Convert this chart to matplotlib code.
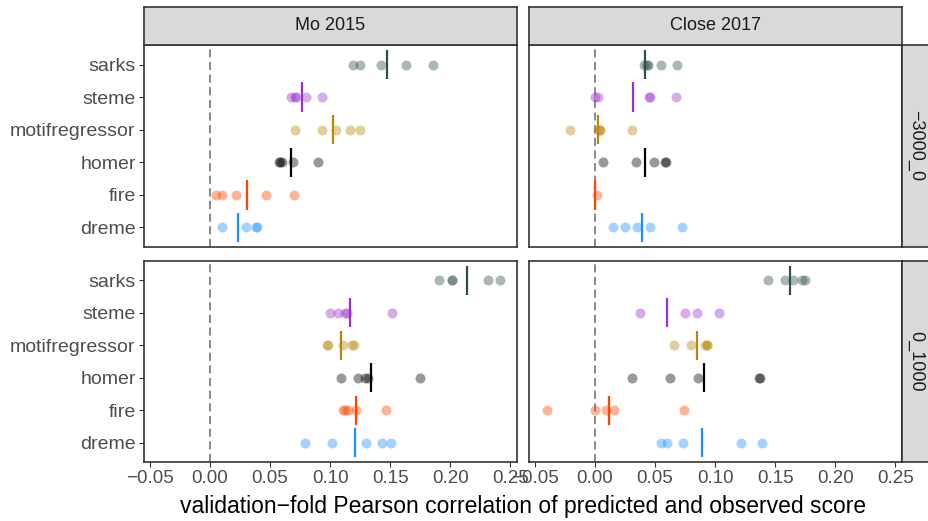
import numpy as np
import matplotlib
matplotlib.use('Agg')
import matplotlib.pyplot as plt

plt.rcParams['font.family'] = ['Liberation Sans', 'DejaVu Sans']

METHODS = ['dreme', 'fire', 'homer', 'motifregressor', 'steme', 'sarks']
COLORS = ['#1E90FF', '#FF4500', '#000000', '#B8860B', '#9932CC', '#2F4F4F']
STUDIES = ['Mo 2015', 'Close 2017']
WINDOWS = ['\u22123000_0', '0_1000']
XTICKS = [-0.05, 0.0, 0.05, 0.10, 0.15, 0.20, 0.25]
XLABEL = 'validation\u2212fold Pearson correlation of predicted and observed score'

# fold values per method (order of METHODS)
mo_up_dots = [
    [0.0102, 0.0302, 0.0385, 0.0390],
    [0.0055, 0.0105, 0.0219, 0.0468, 0.0703],
    [0.0576, 0.0586, 0.0604, 0.0695, 0.0903],
    [0.0706, 0.0936, 0.1052, 0.1163, 0.1251],
    [0.0673, 0.0706, 0.0717, 0.0803, 0.0936],
    [0.1188, 0.1249, 0.1426, 0.1628, 0.1855],
]
mo_up_mean = [0.0235, 0.0307, 0.0673, 0.1022, 0.0767, 0.1470]

close_up_dots = [
    [0.0152, 0.0249, 0.0354, 0.0457, 0.0723],
    [0.0017],
    [0.0069, 0.0341, 0.0496, 0.0584, 0.0590],
    [-0.0210, 0.0028, 0.0042, 0.0045, 0.0307],
    [0.0000, 0.0025, 0.0451, 0.0457, 0.0673],
    [0.0410, 0.0430, 0.0440, 0.0548, 0.0687],
]
close_up_mean = [0.0388, 0.0000, 0.0415, 0.0028, 0.0318, 0.0418]

mo_down_dots = [
    [0.0795, 0.1019, 0.1296, 0.1431, 0.1506],
    [0.1110, 0.1120, 0.1149, 0.1213, 0.1467],
    [0.1094, 0.1232, 0.1287, 0.1318, 0.1747],
    [0.0975, 0.0986, 0.1110, 0.1180, 0.1199],
    [0.0997, 0.1063, 0.1124, 0.1138, 0.1517],
    [0.1905, 0.2013, 0.2018, 0.2315, 0.2417],
]
mo_down_mean = [0.1204, 0.1213, 0.1337, 0.1091, 0.1166, 0.2135]

close_down_dots = [
    [0.0548, 0.0604, 0.0736, 0.1213, 0.1387],
    [-0.0399, -0.0003, 0.0091, 0.0155, 0.0739],
    [0.0307, 0.0623, 0.0858, 0.1365, 0.1373],
    [0.0656, 0.0800, 0.0913, 0.0930, 0.0936],
    [0.0379, 0.0753, 0.0850, 0.1035],
    [0.1442, 0.1581, 0.1650, 0.1719, 0.1747],
]
close_down_mean = [0.0894, 0.0116, 0.0905, 0.0847, 0.0604, 0.1622]

PANELS = [
    [(mo_up_dots, mo_up_mean), (close_up_dots, close_up_mean)],
    [(mo_down_dots, mo_down_mean), (close_down_dots, close_down_mean)],
]

W, H = 929, 521
fig = plt.figure(figsize=(W / 100, H / 100), dpi=100, facecolor='white')

col_x = [(144, 517), (529, 902)]
row_y = [(45, 247), (261, 462)]
STRIP_BG = '#D9D9D9'
EDGE = '#333333'


def fx(px):
    return px / W


def fy(py):
    return 1 - py / H


def style_box(a):
    for sp in a.spines.values():
        sp.set_color(EDGE)
        sp.set_linewidth(1.2)


for r in range(2):
    for c in range(2):
        x0, x1 = col_x[c]
        yt, yb = row_y[r]
        ax = fig.add_axes([fx(x0), fy(yb), fx(x1) - fx(x0), fy(yt) - fy(yb)])
        dots, means = PANELS[r][c]
        ax.axvline(0, color='#7F7F7F', linestyle=(0, (4.5, 2.5)), linewidth=1.3, zorder=1)
        for i, (vals, m, col) in enumerate(zip(dots, means, COLORS)):
            y = np.full(len(vals), i + 1)
            ax.scatter(vals, y, s=52, color=col, alpha=0.4, linewidths=0, zorder=2)
            ax.plot([m, m], [i + 1 - 0.45, i + 1 + 0.45], color=col, linewidth=1.6,
                    solid_capstyle='butt', zorder=3)
        ax.set_xlim(-0.0548, 0.2555)
        ax.set_ylim(0.4, 6.6)
        ax.set_xticks(XTICKS)
        ax.set_yticks(range(1, 7))
        ax.tick_params(length=3.5, width=0.8, color=EDGE, labelcolor='#4D4D4D', pad=2.5)
        ax.tick_params(axis='y', labelsize=14)
        ax.tick_params(axis='x', labelsize=13.5)
        if c == 0:
            ax.set_yticklabels(METHODS)
        else:
            ax.tick_params(axis='y', left=False, labelleft=False)
        if r == 0:
            ax.tick_params(axis='x', bottom=False, labelbottom=False)
        else:
            ax.set_xticklabels([f'{t:.2f}'.replace('-', '\u2212') for t in XTICKS])
        style_box(ax)

        # top strips
        if r == 0:
            sax = fig.add_axes([fx(x0), fy(45), fx(x1) - fx(x0), fy(7) - fy(45)])
            sax.set_facecolor(STRIP_BG)
            sax.set_xticks([])
            sax.set_yticks([])
            style_box(sax)
            sax.text(0.5, 0.5, STUDIES[c], ha='center', va='center',
                     fontsize=13, color='#1A1A1A', transform=sax.transAxes)

        # right strips
        if c == 1:
            rax = fig.add_axes([fx(902), fy(yb), fx(945) - fx(902), fy(yt) - fy(yb)])
            rax.set_facecolor(STRIP_BG)
            rax.set_xticks([])
            rax.set_yticks([])
            style_box(rax)
            fig.text(fx(916), (fy(yt) + fy(yb)) / 2, WINDOWS[r], rotation=270,
                     ha='center', va='center', fontsize=13, color='#1A1A1A')

fig.text(fx(523), fy(506), XLABEL, ha='center', va='center', fontsize=16.5, color='black')

fig.savefig('out.png', dpi=100, facecolor='white')
